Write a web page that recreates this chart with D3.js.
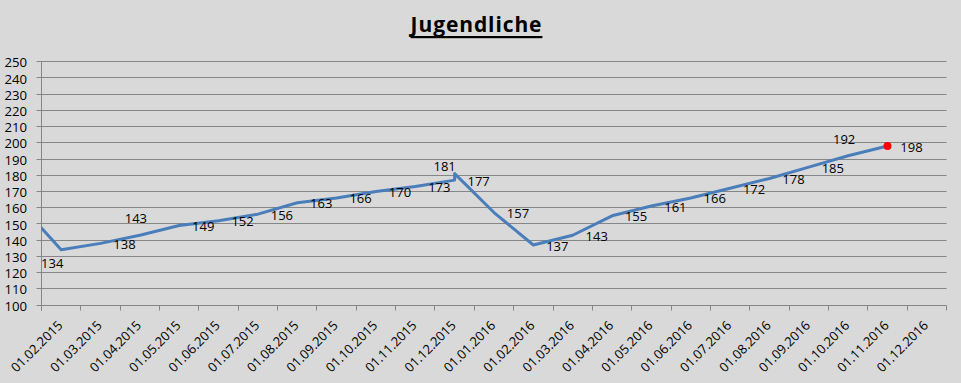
<!DOCTYPE html>
<html>
<head>
<meta charset="utf-8">
<script src="https://cdn.jsdelivr.net/npm/d3@7"></script>
<style>
  html, body { margin: 0; padding: 0; background: #D9D9D9; }
  svg { display: block; }
</style>
</head>
<body>
<script>
// ---- data ----
const chartTitle = "Jugendliche";
const xTickLabels = ["01.02.2015","01.03.2015","01.04.2015","01.05.2015","01.06.2015","01.07.2015",
  "01.08.2015","01.09.2015","01.10.2015","01.11.2015","01.12.2015","01.01.2016","01.02.2016",
  "01.03.2016","01.04.2016","01.05.2016","01.06.2016","01.07.2016","01.08.2016","01.09.2016",
  "01.10.2016","01.11.2016","01.12.2016"];
const yTickValues = [100,110,120,130,140,150,160,170,180,190,200,210,220,230,240,250];
const pointDates = ["01.01.2015","01.02.2015","01.03.2015","01.04.2015","01.05.2015","01.06.2015",
  "01.07.2015","01.08.2015","01.09.2015","01.10.2015","01.11.2015","01.12.2015","01.12.2015",
  "01.01.2016","01.02.2016","01.03.2016","01.04.2016","01.05.2016","01.06.2016","01.07.2016",
  "01.08.2016","01.09.2016","01.10.2016","01.11.2016"];
const pointValues = [161,134,138,143,149,152,156,163,166,170,173,177,181,157,137,143,155,161,166,172,178,185,192,198];
const labelPlacement = [null,"belowLeft","right","above","right","right","right","right","right","right",
  "right","right","aboveLeft","right","right","right","right","right","right","right","right","right","above","right"];
const highlightIndex = pointValues.length - 1;

// ---- layout ----
const W = 961, H = 383;
const plot = { left: 41.5, right: 946.5, top: 61.7, bottom: 305 };
const lineColor = "#4A7EBB", gridColor = "#868686";
const font = "'Open Sans', sans-serif";

const svg = d3.select("body").append("svg").attr("width", W).attr("height", H);
svg.append("rect").attr("width", W).attr("height", H).attr("fill", "#D9D9D9");

const x = d3.scaleLinear().domain([0, xTickLabels.length]).range([plot.left, plot.right]);
const y = d3.scaleLinear().domain([100, 250]).range([plot.bottom, plot.top]);
const crisp = v => Math.round(v - 0.5) + 0.5;

function monthIndex(s) {
  const [d, m, yr] = s.split(".").map(Number);
  return (yr - 2015) * 12 + (m - 2);
}
const points = pointValues.map((v, i) => ({ m: monthIndex(pointDates[i]), v, place: labelPlacement[i] }));
const px = d => x(d.m + 0.5);

// title
const title = svg.append("text")
  .attr("x", 476.5).attr("y", 32)
  .attr("text-anchor", "middle")
  .attr("font-family", font).attr("font-weight", "bold")
  .attr("font-size", 21).attr("letter-spacing", "0.9px")
  .attr("fill", "#000").text(chartTitle);
const tw = title.node().getComputedTextLength();
svg.append("rect").attr("x", 476.5 - tw / 2).attr("y", 36).attr("width", tw).attr("height", 2.2).attr("fill", "#000");

// gridlines
svg.append("g").selectAll("line").data(yTickValues).join("line")
  .attr("x1", plot.left - 5).attr("x2", plot.right)
  .attr("y1", d => crisp(y(d))).attr("y2", d => crisp(y(d)))
  .attr("stroke", gridColor).attr("stroke-width", 1);

// y axis line
svg.append("line").attr("x1", crisp(plot.left)).attr("x2", crisp(plot.left))
  .attr("y1", crisp(y(250))).attr("y2", crisp(y(100)) + 5)
  .attr("stroke", gridColor).attr("stroke-width", 1);

// y labels
svg.append("g").selectAll("text").data(yTickValues).join("text")
  .attr("x", 27).attr("y", d => y(d) + 1).attr("dy", "0.35em")
  .attr("text-anchor", "end").attr("font-family", font).attr("font-size", 13.2)
  .attr("fill", "#000").text(d => d);

// x ticks
svg.append("g").selectAll("line").data(d3.range(xTickLabels.length + 1)).join("line")
  .attr("x1", d => crisp(x(d))).attr("x2", d => crisp(x(d)))
  .attr("y1", crisp(y(100))).attr("y2", crisp(y(100)) + 5)
  .attr("stroke", gridColor).attr("stroke-width", 1);

// x labels
svg.append("g").selectAll("text").data(xTickLabels).join("text")
  .attr("transform", (d, i) => `translate(${x(i + 0.5) - 1},${323}) rotate(-45)`)
  .attr("dy", "0.35em")
  .attr("text-anchor", "end").attr("font-family", font).attr("font-size", 13)
  .attr("fill", "#000").text(d => d);

// clip
svg.append("clipPath").attr("id", "clip").append("rect")
  .attr("x", plot.left).attr("y", plot.top - 20)
  .attr("width", plot.right - plot.left).attr("height", plot.bottom - plot.top + 20);

// line
svg.append("path").datum(points)
  .attr("clip-path", "url(#clip)")
  .attr("d", d3.line().x(px).y(d => y(d.v)))
  .attr("fill", "none").attr("stroke", lineColor).attr("stroke-width", 3)
  .attr("stroke-linejoin", "round");

// highlighted marker
svg.append("circle").attr("cx", px(points[highlightIndex])).attr("cy", y(points[highlightIndex].v))
  .attr("r", 4).attr("fill", "#FF0000");

// data labels
const offsets = {
  right: [24, 1], above: [-4, -16.5], belowLeft: [-9, 13.5], aboveLeft: [-10, -7.5]
};
svg.append("g").selectAll("text").data(points.filter(p => p.place)).join("text")
  .attr("x", d => px(d) + offsets[d.place][0])
  .attr("y", d => y(d.v) + offsets[d.place][1])
  .attr("dy", "0.35em").attr("text-anchor", "middle")
  .attr("font-family", font).attr("font-size", 13).attr("fill", "#000")
  .text(d => d.v);
</script>
</body>
</html>
